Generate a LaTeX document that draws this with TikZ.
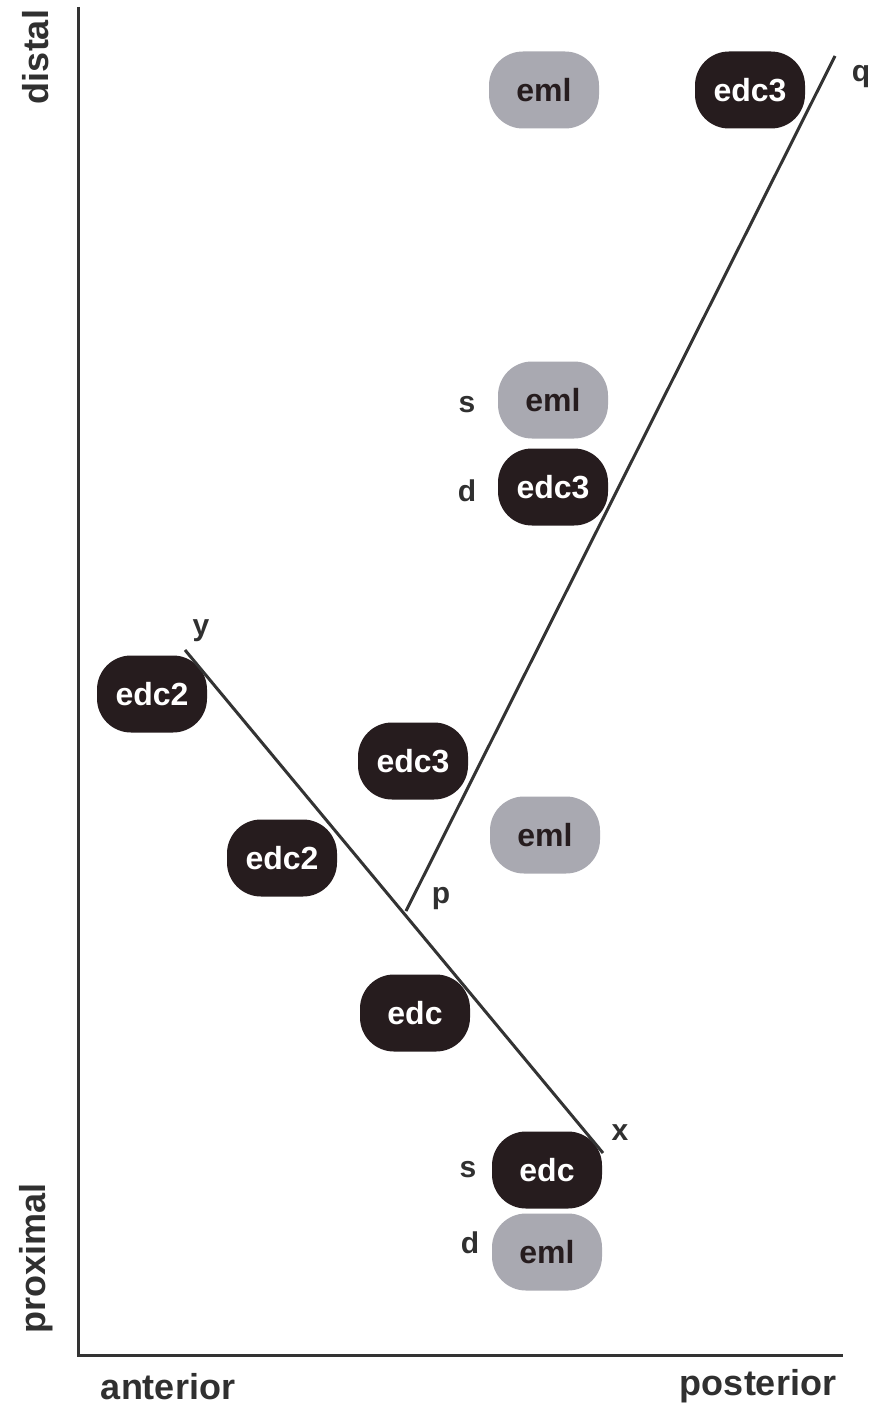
\documentclass[tikz,border=0pt]{standalone}
\usepackage{fontspec}
\setmainfont{Liberation Sans}
\begin{document}
\begin{tikzpicture}[x=1pt,y=-1pt,
  blob/.style={rounded corners=34pt, minimum width=110pt, minimum height=77pt, inner sep=0pt, font=\fontsize{32}{33}\selectfont\bfseries},
  darkblob/.style={blob, fill=darkc, text=white},
  lightblob/.style={blob, fill=lightc, text=darkc},
  lab/.style={font=\fontsize{30}{31}\selectfont\bfseries, text=txtc, inner sep=0pt},
  axlab/.style={font=\fontsize{36}{38}\selectfont\bfseries, text=txtc, inner sep=0pt},
  axis/.style={draw=linec, line width=3pt},
  seg/.style={draw=linec, line width=3pt}]
\definecolor{darkc}{HTML}{261C1E}
\definecolor{lightc}{HTML}{A9A9B1}
\definecolor{txtc}{HTML}{303030}
\definecolor{linec}{HTML}{333333}
\useasboundingbox[fill=white] (0,0) rectangle (878,1410);
% axes
\coordinate (top) at (78,7);
\coordinate (origin) at (78,1355);
\coordinate (right) at (843,1355);
\draw[axis] (top) -- (origin) -- (right);
\node[axlab, rotate=90] (distal) at (36,57) {distal};
\node[axlab, rotate=90] (proximal) at (36,1258) {proximal};
\node[axlab] (anterior) at (168,1387) {anterior};
\node[axlab] (posterior) at (758,1386) {posterior};
% blobs
\node[lightblob] (eml1) at (544,90) {eml};
\node[darkblob] (edc3a) at (750,90) {edc3};
\node[lightblob] (eml2) at (553,400) {eml};
\node[darkblob] (edc3b) at (553,487) {edc3};
\node[darkblob] (edc2a) at (152,694) {edc2};
\node[darkblob] (edc3c) at (413,761) {edc3};
\node[lightblob] (eml3) at (545,835) {eml};
\node[darkblob] (edc2b) at (282,858) {edc2};
\node[darkblob] (edc1) at (415,1013) {edc};
\node[darkblob] (edc0) at (547,1170) {edc};
\node[lightblob] (eml4) at (547,1252) {eml};
% s/d labels
\node[lab] (s1) at (467,405) {s};
\node[lab] (d1) at (467,491) {d};
\node[lab] (s2) at (468,1170) {s};
\node[lab] (d2) at (470,1243) {d};
% lines
\coordinate (py) at (185,650);
\coordinate (px) at (603,1153);
\coordinate (pp) at (406,911);
\coordinate (pq) at (835,56);
\draw[seg] (py) -- (px);
\draw[seg] (pp) -- (pq);
\node[lab] (ly) at (201,631) {y};
\node[lab] (lq) at (861,77) {q};
\node[lab] (lp) at (441,899) {p};
\node[lab] (lx) at (620,1133) {x};
\end{tikzpicture}
\end{document}
